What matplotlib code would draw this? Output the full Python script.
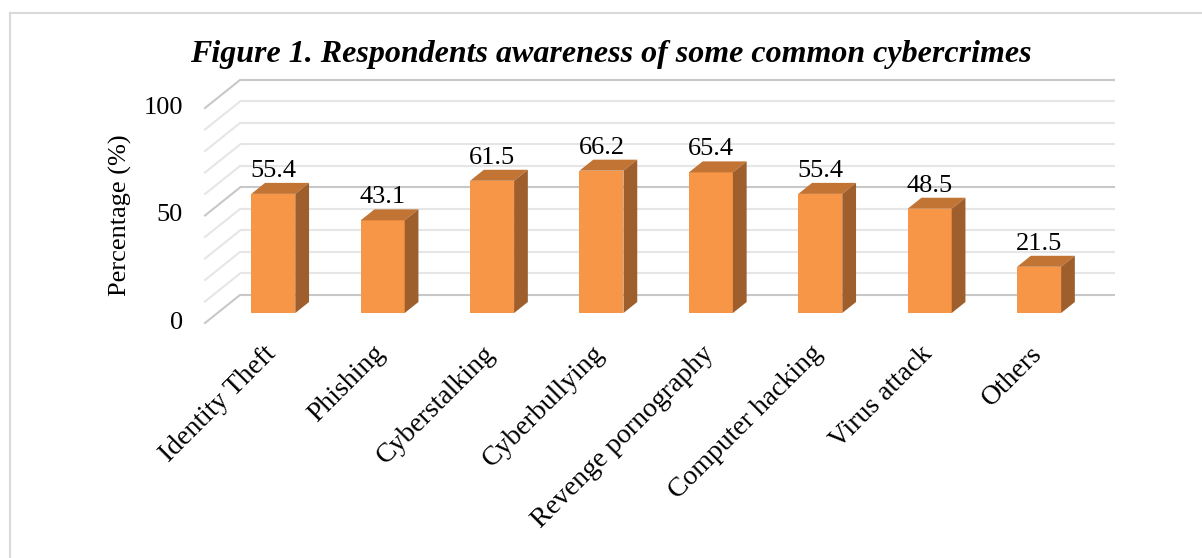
import matplotlib
matplotlib.use("Agg")
import matplotlib.pyplot as plt
from matplotlib.patches import Polygon
from matplotlib.lines import Line2D

categories = ["Identity Theft", "Phishing", "Cyberstalking", "Cyberbullying",
              "Revenge pornography", "Computer hacking", "Virus attack", "Others"]
values = [55.4, 43.1, 61.5, 66.2, 65.4, 55.4, 48.5, 21.5]
ytick_values = [0, 50, 100]
grid_values = list(range(0, 101, 10))
title = "Figure 1. Respondents awareness of some common cybercrimes"
ylabel = "Percentage (%)"

W, H = 1202, 558
fig = plt.figure(figsize=(W / 100, H / 100), dpi=100)
fig.patch.set_facecolor("white")

# pixel geometry of the back wall
PX_X0 = 240.0      # left edge of back wall (px)
PX_CAT = 109.4     # px per category
PX_Y0 = 295.0      # value 0 on back wall (px from top)
PX_V = 2.15        # px per value unit

ax = fig.add_axes([0, 0, 1, 1])
ax.set_xlim(-0.5 - PX_X0 / PX_CAT, -0.5 + (W - PX_X0) / PX_CAT)
ax.set_ylim((PX_Y0 - H) / PX_V, PX_Y0 / PX_V)
ax.axis("off")

DX = 35.0 / PX_CAT   # depth shift in category units (full floor depth)
DY = 28.0 / PX_V     # depth shift in value units


def proj(xc, v, f):
    return (xc - f * DX, v - f * DY)


FONT = "Liberation Serif"
MAJOR = "#c8c8c8"
MINOR = "#e6e6e6"

n = len(categories)
# back wall gridlines + side wall diagonals
for g in grid_values:
    col = MAJOR if g % 50 == 0 else MINOR
    ax.plot([-0.5, n - 0.5], [g, g], color=col, lw=1.5, zorder=1,
            solid_capstyle="butt")
    p0 = proj(-0.5, g, 0)
    p1 = proj(-0.5, g, 1)
    ax.plot([p0[0], p1[0]], [p0[1], p1[1]], color=col, lw=1.5, zorder=1)

# y tick labels on the front plane
for t in ytick_values:
    x, y = proj(-0.5, t, 1)
    ax.text(x - 22 / PX_CAT, y, str(t), ha="right", va="center",
            fontsize=19, family=FONT, color="#000000")

FRONT = "#F79646"
TOP = "#C27435"
SIDE = "#9E5F2C"
F_FRONT = 18 / 28
F_BACK = 7 / 28
HW = 22 / PX_CAT
OFF = 0.01

for i, (cat, v) in enumerate(zip(categories, values)):
    xc = i + OFF
    fl = proj(xc - HW, 0, F_FRONT)
    fr = proj(xc + HW, 0, F_FRONT)
    ftl = proj(xc - HW, v, F_FRONT)
    ftr = proj(xc + HW, v, F_FRONT)
    br = proj(xc + HW, 0, F_BACK)
    btl = proj(xc - HW, v, F_BACK)
    btr = proj(xc + HW, v, F_BACK)
    ax.add_patch(Polygon([fl, fr, ftr, ftl], closed=True, fc=FRONT, ec="none", zorder=3))
    ax.add_patch(Polygon([ftl, ftr, btr, btl], closed=True, fc=TOP, ec="none", zorder=3))
    ax.add_patch(Polygon([fr, br, btr, ftr], closed=True, fc=SIDE, ec="none", zorder=3))
    # value label
    cx = proj(xc, v, F_FRONT)[0]
    ax.text(cx, btl[1] + 6 / PX_V, f"{v:.1f}", ha="center", va="baseline",
            fontsize=19, family=FONT, color="#000000", zorder=4)
    # category label
    ax.text(cx - 10 / PX_CAT, (PX_Y0 - 341) / PX_V, cat, rotation=45,
            rotation_mode="anchor", ha="right", va="top",
            fontsize=20, family=FONT, color="#000000")

fig.text(120 / W, 1 - 215 / H, ylabel, rotation=90, ha="center", va="center",
         fontsize=19, family=FONT, color="#000000")
fig.text(611 / W, 1 - 62 / H, title, ha="center", va="baseline",
         fontsize=23, family=FONT, fontweight="bold", fontstyle="italic",
         color="#000000")

# chart-area border (top and left visible)
fig.add_artist(Line2D([10 / W, 1.0], [1 - 13 / H, 1 - 13 / H],
                      transform=fig.transFigure, color="#d9d9d9", lw=1.5))
fig.add_artist(Line2D([10 / W, 10 / W], [1 - 13 / H, 0.0],
                      transform=fig.transFigure, color="#d9d9d9", lw=1.5))

fig.savefig("out.png", dpi=100, facecolor="white")
